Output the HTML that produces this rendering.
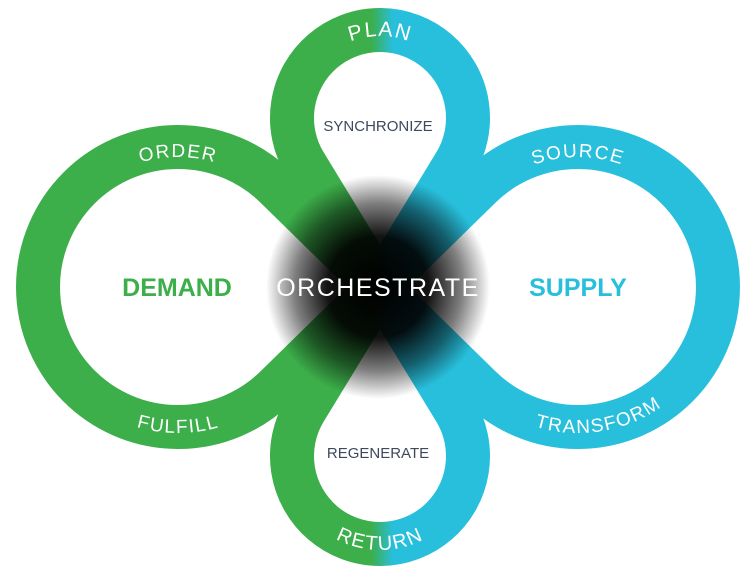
<!DOCTYPE html>
<html><head><meta charset="utf-8"><style>
html,body{margin:0;padding:0;background:#fff;}
svg{display:block;font-family:"Liberation Sans",sans-serif;}
</style></head><body>
<svg width="754" height="578" viewBox="0 0 754 578">
<defs>
<linearGradient id="gb" x1="270" y1="0" x2="490" y2="0" gradientUnits="userSpaceOnUse">
<stop offset="0.46" stop-color="#3cae4a"/><stop offset="0.56" stop-color="#28bfdc"/>
</linearGradient>
<linearGradient id="gh" x1="0" y1="0" x2="754" y2="0" gradientUnits="userSpaceOnUse">
<stop offset="0.5" stop-color="#3cae4a"/><stop offset="0.5" stop-color="#28bfdc"/>
</linearGradient>
<radialGradient id="rg" cx="378" cy="287" r="112" gradientUnits="userSpaceOnUse">
<stop offset="0" stop-color="#000" stop-opacity="1"/>
<stop offset="0.45" stop-color="#000" stop-opacity="0.93"/>
<stop offset="0.75" stop-color="#000" stop-opacity="0.5"/>
<stop offset="1" stop-color="#000" stop-opacity="0"/>
</radialGradient>
<path id="pOrder" d="M 48 287 A 130 130 0 0 1 308 287"/>
<path id="pFul" d="M 32 287 A 146 146 0 0 0 324 287"/>
<path id="pSrc" d="M 448 287 A 130 130 0 0 1 708 287"/>
<path id="pTr" d="M 432 287 A 146 146 0 0 0 724 287"/>
<path id="pPlan" d="M 298 118 A 82 82 0 0 1 462 118"/>
<path id="pRet" d="M 286 456 A 94 94 0 0 0 474 456"/>
</defs>
<g fill="none" stroke-width="44">
<path d="M 276 187 L 480 387 A 140 140 0 1 0 480 187 L 276 387 A 140 140 0 1 1 276 187 Z" stroke="url(#gh)"/>
<path d="M 305 164 L 455 410 A 88 88 0 1 1 305 410 L 455 164 A 88 88 0 1 0 305 164 Z" stroke="url(#gb)"/>
</g>
<circle cx="378" cy="287" r="112" fill="url(#rg)"/>
<g fill="#fff" font-size="19" letter-spacing="1.5">
<text><textPath href="#pOrder" startOffset="50%" text-anchor="middle">ORDER</textPath></text>
<text><textPath href="#pFul" startOffset="50%" text-anchor="middle">FULFILL</textPath></text>
<text><textPath href="#pSrc" startOffset="50%" text-anchor="middle">SOURCE</textPath></text>
<text><textPath href="#pTr" startOffset="55%" text-anchor="middle">TRANSFORM</textPath></text>
<text font-size="21"><textPath href="#pPlan" startOffset="50%" text-anchor="middle">PLAN</textPath></text>
<text font-size="20"><textPath href="#pRet" startOffset="50%" text-anchor="middle">RETURN</textPath></text>
</g>
<text x="177" y="296" font-size="25" font-weight="bold" fill="#3cae4a" text-anchor="middle">DEMAND</text>
<text x="578" y="296" font-size="25" font-weight="bold" fill="#28bfdc" text-anchor="middle">SUPPLY</text>
<text x="378" y="296" font-size="25" fill="#fff" text-anchor="middle" letter-spacing="1.5">ORCHESTRATE</text>
<text x="378" y="131" font-size="15" fill="#3d4a5c" text-anchor="middle">SYNCHRONIZE</text>
<text x="378" y="458" font-size="15" fill="#3d4a5c" text-anchor="middle">REGENERATE</text>
</svg>
</body></html>
